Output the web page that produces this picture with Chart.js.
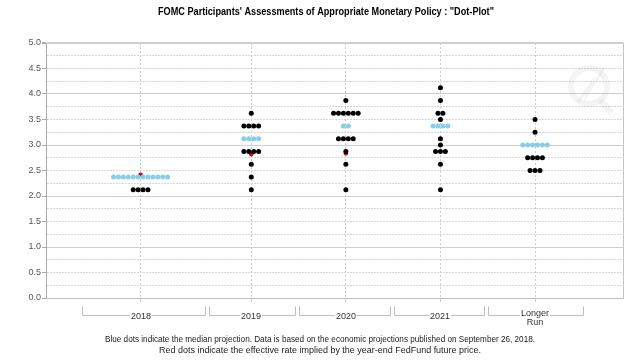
<!DOCTYPE html>
<html>
<head>
<meta charset="utf-8">
<script src="https://cdn.jsdelivr.net/npm/chart.js@4.4.1/dist/chart.umd.min.js"></script>
<style>
html, body { margin: 0; padding: 0; background: #fff; }
#wrap { width: 640px; height: 364px; }
</style>
</head>
<body>
<div id="wrap"><canvas id="dotPlot" width="640" height="364"></canvas></div>
<script>
'use strict';

/* Données : projections individuelles (FOMC, 26 sept. 2018) */
var CATEGORIES = ['2018', '2019', '2020', '2021', ['Longer', 'Run']];
var CAT_X      = [1.0, 2.17, 3.17, 4.17, 5.17];

var PROJ_2018 = [2.375, 2.375, 2.375, 2.375, 2.375, 2.375, 2.375, 2.375, 2.375, 2.375, 2.375, 2.375,
                 2.125, 2.125, 2.125, 2.125];
var PROJ_2019 = [3.625, 3.375, 3.375, 3.375, 3.375, 3.125, 3.125, 3.125, 3.125,
                 2.875, 2.875, 2.875, 2.875, 2.625, 2.375, 2.125];
var PROJ_2020 = [3.875, 3.625, 3.625, 3.625, 3.625, 3.625, 3.625, 3.375, 3.375,
                 3.125, 3.125, 3.125, 3.125, 2.875, 2.625, 2.125];
var PROJ_2021 = [4.125, 3.875, 3.625, 3.625, 3.5, 3.375, 3.375, 3.375, 3.375,
                 3.125, 3.0, 2.875, 2.875, 2.875, 2.625, 2.125];
var PROJ_LR   = [3.5, 3.25, 3.0, 3.0, 3.0, 3.0, 3.0, 3.0, 2.75, 2.75, 2.75, 2.75, 2.5, 2.5, 2.5];

var FEDFUND_IMPLIED = [2.42, 2.82, 2.835, null, null];

var Y_MIN = 0, Y_MAX = 5, Y_STEP = 0.25;
var X_MAX = 6.1;
var BRACKET_BOUNDS = [0.377, 1.697, 2.654, 3.663, 4.652, 5.677];
var DOT_STEP = 0.052;

var TITLE = 'FOMC Participants\' Assessments of Appropriate Monetary Policy : "Dot-Plot"';
var NOTES = [
    'Blue dots indicate the median projection. Data is based on the economic projections published on September 26, 2018.',
    'Red dots indicate the effective rate implied by the year-end FedFund future price.'
];

var FONT = '"Liberation Sans", Arial, sans-serif';

/* ================================================================ */
function median(list) {
    var s = list.slice().sort(function (a, b) { return a - b; });
    var n = s.length;
    return n % 2 ? s[(n - 1) / 2] : (s[n / 2 - 1] + s[n / 2]) / 2;
}

var blackPts = [], bluePts = [], redPts = [];
[PROJ_2018, PROJ_2019, PROJ_2020, PROJ_2021, PROJ_LR].forEach(function (list, c) {
    var med = median(list);
    var counts = {};
    list.forEach(function (v) { counts[v] = (counts[v] || 0) + 1; });
    Object.keys(counts).forEach(function (k) {
        var v = parseFloat(k), n = counts[k];
        for (var i = 0; i < n; i++) {
            var pt = { x: CAT_X[c] + (i - (n - 1) / 2) * DOT_STEP, y: v };
            (v === med ? bluePts : blackPts).push(pt);
        }
    });
    if (FEDFUND_IMPLIED[c] !== null) redPts.push({ x: CAT_X[c], y: FEDFUND_IMPLIED[c] });
});

var yGrid = [];
for (var v = Y_MIN; v <= Y_MAX + 1e-9; v += Y_STEP) yGrid.push(Math.round(v * 100) / 100);

function isInt(v)  { return Math.abs(v - Math.round(v)) < 1e-6; }
function isHalf(v) { return Math.abs(v * 2 - Math.round(v * 2)) < 1e-6; }

/* Titre, notes, accolades sous l'axe, filigrane */
var decorPlugin = {
    id: 'decor',
    beforeDatasetsDraw: function (chart) {
        var ctx = chart.ctx;
        ctx.save();
        ctx.strokeStyle = 'rgba(0,0,0,0.045)';
        ctx.lineWidth = 6;
        ctx.beginPath();
        ctx.arc(589, 86, 18, 0, Math.PI * 2);
        ctx.stroke();
        ctx.lineWidth = 7;
        ctx.beginPath();
        ctx.moveTo(600, 100); ctx.lineTo(612, 113);
        ctx.stroke();
        ctx.lineWidth = 3;
        ctx.beginPath();
        ctx.moveTo(578, 102); ctx.lineTo(591, 84); ctx.lineTo(588, 93); ctx.lineTo(604, 68);
        ctx.stroke();
        ctx.restore();
    },
    afterDraw: function (chart) {
        var ctx = chart.ctx;
        var xs  = chart.scales.x;
        ctx.save();
        ctx.textAlign = 'center';
        ctx.textBaseline = 'middle';

        ctx.font = 'bold 10px ' + FONT;
        ctx.fillStyle = '#000';
        ctx.fillText(TITLE, 326, 12, 336);

        ctx.font = '9px ' + FONT;
        ctx.fillStyle = '#222';
        ctx.fillText(NOTES[0], 320, 340, 430);
        ctx.fillText(NOTES[1], 320, 351, 322);

        /* accolades */
        var yTop = 306.5, yLine = 315.5;
        ctx.strokeStyle = '#bdbdbd';
        ctx.lineWidth = 1;
        ctx.fillStyle = '#333';
        ctx.font = '9px ' + FONT;
        ctx.textBaseline = 'alphabetic';
        CATEGORIES.forEach(function (lab, i) {
            var left  = Math.round(xs.getPixelForValue(BRACKET_BOUNDS[i])) + (i ? 2 : 0) + 0.5;
            var right = Math.round(xs.getPixelForValue(BRACKET_BOUNDS[i + 1])) - (i < CATEGORIES.length - 1 ? 2 : 0) + 0.5;
            var cx    = Math.round(xs.getPixelForValue(CAT_X[i]));
            var lines = Array.isArray(lab) ? lab : [lab];
            var w = 0;
            lines.forEach(function (t) { w = Math.max(w, ctx.measureText(t).width); });
            ctx.beginPath();
            ctx.moveTo(left, yTop); ctx.lineTo(left, yLine); ctx.lineTo(cx - w / 2 - 1, yLine);
            ctx.moveTo(cx + w / 2 + 1, yLine); ctx.lineTo(right, yLine); ctx.lineTo(right, yTop);
            ctx.stroke();
            if (lines.length === 1) {
                ctx.fillText(lines[0], cx, yLine + 3.5);
            } else {
                ctx.fillText(lines[0], cx, yLine + 0.5);
                ctx.fillText(lines[1], cx, yLine + 9);
            }
        });
        ctx.restore();
    }
};

new Chart(document.getElementById('dotPlot'), {
    type: 'scatter',
    data: {
        datasets: [{
            label: 'Median',
            data: bluePts,
            pointRadius: 2.5,
            pointBorderWidth: 0,
            pointBackgroundColor: '#87ceeb',
            order: 1
        }, {
            label: 'Participants',
            data: blackPts,
            pointRadius: 2.5,
            pointBorderWidth: 0,
            pointBackgroundColor: '#000000',
            order: 1
        }, {
            label: 'FedFund implied',
            data: redPts,
            pointRadius: 2.2,
            pointBorderWidth: 0,
            pointBackgroundColor: '#e00000',
            order: 2
        }]
    },
    options: {
        responsive: false,
        animation:  false,
        layout: { padding: { top: 43, right: 17, left: 0, bottom: 0 } },
        plugins: {
            legend:  { display: false },
            tooltip: { enabled: false }
        },
        scales: {
            x: {
                type: 'linear',
                min: 0,
                max: X_MAX,
                afterBuildTicks: function (s) {
                    s.ticks = CAT_X.concat([X_MAX]).map(function (v) { return { value: v }; });
                },
                afterFit: function (s) { s.height = 66; },
                ticks: { display: false },
                grid: {
                    color: function (c) { return c.tick && c.tick.value === X_MAX ? '#c4c4c4' : '#cccccc'; },
                    tickLength: 4,
                    tickColor: function (c) { return c.tick && c.tick.value === X_MAX ? 'rgba(0,0,0,0)' : '#cccccc'; }
                },
                border: {
                    display: true,
                    color: '#bdbdbd',
                    dash: function (c) { return c.tick && c.tick.value === X_MAX ? [] : [2, 2]; }
                }
            },
            y: {
                min: Y_MIN,
                max: Y_MAX,
                afterBuildTicks: function (s) {
                    s.ticks = yGrid.map(function (v) { return { value: v }; });
                },
                afterFit: function (s) { s.width = 46; },
                ticks: {
                    autoSkip: false,
                    padding: 1,
                    color: '#555',
                    font: { size: 9, family: FONT },
                    callback: function (v) { return isHalf(v) ? v.toFixed(1) : ''; }
                },
                grid: {
                    color: function (c) { return c.tick && isInt(c.tick.value) ? '#cfcfcf' : '#d6d6d6'; },
                    lineWidth: function (c) { return c.tick && c.tick.value === Y_MAX ? 2 : 1; },
                    tickLength: 4,
                    tickColor: function (c) { return c.tick && isHalf(c.tick.value) ? '#aaaaaa' : 'rgba(0,0,0,0)'; }
                },
                border: {
                    display: true,
                    color: '#aaaaaa',
                    dash: function (c) { return c.tick && isInt(c.tick.value) ? [] : [2, 1]; }
                }
            }
        }
    },
    plugins: [decorPlugin]
});
</script>
</body>
</html>
